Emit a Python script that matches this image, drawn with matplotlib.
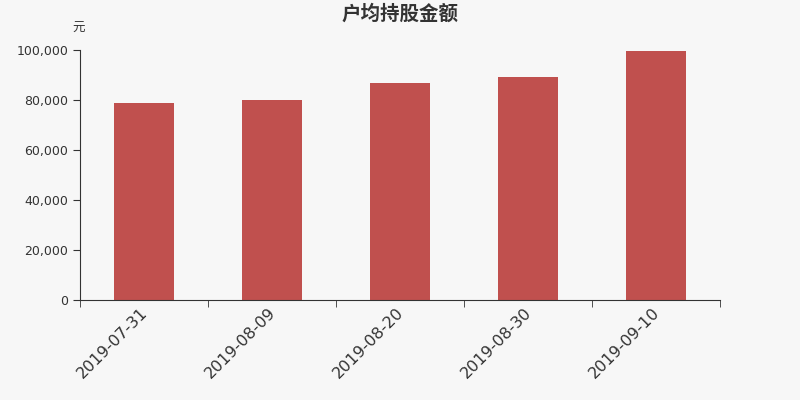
import matplotlib.pyplot as plt
import matplotlib.transforms as mtransforms
import numpy as np
from matplotlib.ticker import FuncFormatter

plt.rcParams['font.family'] = ['DejaVu Sans', 'Noto Sans CJK SC']

dates = ['2019-07-31', '2019-08-09', '2019-08-20', '2019-08-30', '2019-09-10']
values = [78700, 80000, 86800, 89100, 99600]

bg = '#f7f7f7'
fig = plt.figure(figsize=(8, 4), dpi=100, facecolor=bg)
ax = fig.add_axes([0.1, 0.25, 0.8, 0.625], facecolor=bg)

x = np.arange(len(dates))
ax.bar(x, values, width=0.47, color='#c0504e')

ax.set_xlim(-0.5, len(dates) - 0.5)
ax.set_ylim(0, 100000)
ax.set_yticks(np.arange(0, 100001, 20000))
ax.yaxis.set_major_formatter(FuncFormatter(lambda v, p: f'{int(v):,}'))

ax.set_xticks(x)
ax.set_xticklabels(dates, rotation=45, ha='right', va='top', rotation_mode='anchor', fontsize=11.5, color='#333333')
ax.set_xticks(np.arange(-0.5, len(dates)), minor=True)
ax.tick_params(axis='x', which='major', length=0, pad=5)
ax.tick_params(axis='x', which='minor', length=5, color='#333333')
ax.tick_params(axis='y', length=5, labelsize=9, labelcolor='#333333', color='#333333')

# nudge the date labels a little to the left
shift = mtransforms.ScaledTranslation(-0.04, 0.02, fig.dpi_scale_trans)
for lbl in ax.get_xticklabels():
    lbl.set_transform(lbl.get_transform() + shift)

for s in ['top', 'right']:
    ax.spines[s].set_visible(False)
for s in ['left', 'bottom']:
    ax.spines[s].set_color('#333333')

fig.text(0.5, 0.965, '户均持股金额', ha='center', va='center', fontsize=14, fontweight='bold',
         color='#333333', family=['Noto Sans CJK SC', 'DejaVu Sans'])
fig.text(0.098, 0.928, '元', ha='center', va='center', fontsize=9, color='#333333',
         family=['Noto Sans CJK SC', 'DejaVu Sans'])

fig.savefig('out.png', dpi=100, facecolor=bg)
